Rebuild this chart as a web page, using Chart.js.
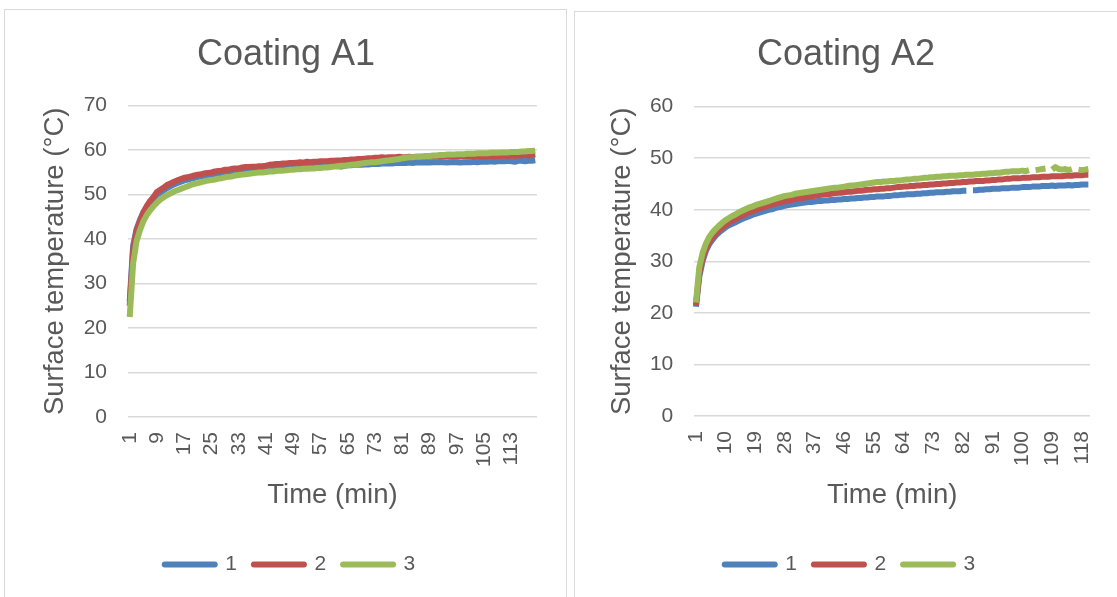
<!DOCTYPE html>
<html><head><meta charset="utf-8">
<script src="https://cdn.jsdelivr.net/npm/chart.js@4.4.1/dist/chart.umd.min.js"></script>
<style>
html,body{margin:0;padding:0;background:#fff;width:1117px;height:597px;overflow:hidden;position:relative;}
.box{position:absolute;border:1px solid #d9d9d9;box-sizing:border-box;}
canvas{position:absolute;}
</style></head><body>
<div class="box" style="left:4px;top:9px;width:563px;height:620px"></div>
<div class="box" style="left:574px;top:11px;width:620px;height:620px"></div>
<canvas id="c1" width="560" height="587" style="left:5px;top:10px"></canvas>
<canvas id="c2" width="544" height="587" style="left:575px;top:10px"></canvas>
<script>
const timeA1 = [1,2,3,4,5,6,7,8,9,10,11,12,13,14,15,16,17,18,19,20,21,22,23,24,25,26,27,28,29,30,31,32,33,34,35,36,37,38,39,40,41,42,43,44,45,46,47,48,49,50,51,52,53,54,55,56,57,58,59,60,61,62,63,64,65,66,67,68,69,70,71,72,73,74,75,76,77,78,79,80,81,82,83,84,85,86,87,88,89,90,91,92,93,94,95,96,97,98,99,100,101,102,103,104,105,106,107,108,109,110,111,112,113,114,115,116,117,118,119,120];
const timeA2 = [1,2,3,4,5,6,7,8,9,10,11,12,13,14,15,16,17,18,19,20,21,22,23,24,25,26,27,28,29,30,31,32,33,34,35,36,37,38,39,40,41,42,43,44,45,46,47,48,49,50,51,52,53,54,55,56,57,58,59,60,61,62,63,64,65,66,67,68,69,70,71,72,73,74,75,76,77,78,79,80,81,82,83,84,85,86,87,88,89,90,91,92,93,94,95,96,97,98,99,100,101,102,103,104,105,106,107,108,109,110,111,112,113,114,115,116,117,118,119,120];
const tickLabelsA1 = [1,9,17,25,33,41,49,57,65,73,81,89,97,105,113];
const tickLabelsA2 = [1,10,19,28,37,46,55,64,73,82,91,100,109,118];
const seriesNames = ['1','2','3'];

const a1s1 = [26.0,38.5,42.2,44.3,46.0,47.2,48.3,49.1,50.0,50.5,
51.0,51.5,51.9,52.3,52.6,52.9,53.2,53.4,53.6,53.8,
54.0,54.1,54.3,54.4,54.5,54.7,54.8,54.9,55.0,55.1,
55.2,55.3,55.4,55.4,55.5,55.5,55.6,55.7,55.7,55.8,
55.8,55.9,55.9,56.0,56.0,56.1,56.1,56.1,56.2,56.2,
56.2,56.3,56.3,56.3,56.4,56.4,56.4,56.5,56.4,56.5,
56.5,56.4,56.3,56.5,56.6,56.6,56.7,56.7,56.7,56.8,
56.8,56.9,56.9,56.9,57.0,57.0,57.0,57.0,57.1,57.1,
57.1,57.1,57.2,57.1,57.2,57.2,57.2,57.3,57.2,57.3,
57.3,57.3,57.3,57.2,57.3,57.3,57.3,57.2,57.3,57.3,
57.3,57.4,57.3,57.4,57.4,57.4,57.5,57.4,57.5,57.5,
57.5,57.6,57.5,57.4,57.6,57.6,57.5,57.6,57.6,57.7];
const a1s2 = [25.0,37.5,41.8,44.0,46.0,47.4,48.6,49.5,50.6,51.1,
51.6,52.2,52.5,52.9,53.2,53.5,53.8,53.9,54.1,54.3,
54.5,54.6,54.8,54.9,55.0,55.2,55.3,55.4,55.6,55.6,
55.8,55.9,55.9,56.1,56.2,56.2,56.3,56.3,56.4,56.4,
56.5,56.7,56.8,56.9,56.9,57.0,57.0,57.1,57.1,57.2,
57.3,57.2,57.4,57.3,57.4,57.4,57.5,57.5,57.5,57.6,
57.6,57.7,57.7,57.8,57.8,57.9,57.9,58.0,58.0,58.1,
58.2,58.2,58.3,58.3,58.4,58.3,58.4,58.4,58.4,58.5,
58.4,58.4,58.5,58.4,58.5,58.5,58.5,58.6,58.5,58.6,
58.6,58.5,58.6,58.6,58.6,58.5,58.6,58.6,58.7,58.6,
58.6,58.7,58.6,58.7,58.6,58.7,58.7,58.6,58.7,58.7,
58.8,58.7,58.8,58.7,58.8,58.8,58.9,58.8,58.9,59.0];
const a1s3 = [22.5,34.5,39.5,42.0,44.0,45.4,46.5,47.4,48.2,48.9,
49.4,49.9,50.3,50.7,51.0,51.3,51.6,51.9,52.2,52.4,
52.6,52.8,53.0,53.2,53.3,53.4,53.6,53.7,53.9,54.0,
54.1,54.3,54.4,54.5,54.6,54.7,54.8,54.9,55.0,55.0,
55.1,55.2,55.2,55.3,55.4,55.4,55.5,55.6,55.6,55.7,
55.7,55.8,55.8,55.9,55.9,56.0,56.0,56.1,56.1,56.2,
56.3,56.4,56.5,56.5,56.6,56.7,56.8,56.9,57.0,57.1,
57.2,57.3,57.3,57.4,57.5,57.6,57.7,57.8,57.9,58.0,
58.2,58.3,58.4,58.4,58.5,58.5,58.6,58.7,58.7,58.8,
58.8,58.9,58.9,59.0,59.0,59.0,59.1,59.1,59.1,59.2,
59.2,59.2,59.3,59.3,59.3,59.3,59.4,59.4,59.4,59.5,
59.5,59.5,59.6,59.6,59.6,59.7,59.7,59.8,59.8,59.9];

const a2s1 = [21.2,27.0,30.0,32.0,33.3,34.2,35.0,35.6,36.1,36.6,
37.0,37.3,37.6,37.9,38.2,38.5,38.7,39.0,39.2,39.4,
39.6,39.8,40.0,40.1,40.3,40.5,40.6,40.8,40.9,41.0,
41.1,41.2,41.3,41.4,41.5,41.5,41.6,41.7,41.7,41.8,
41.8,41.9,41.9,42.0,42.0,42.1,42.1,42.2,42.2,42.3,
42.3,42.4,42.4,42.5,42.5,42.6,42.6,42.6,42.7,42.7,
42.8,42.8,42.9,42.9,43.0,43.0,43.0,43.1,43.1,43.2,
43.2,43.3,43.3,43.4,43.4,43.4,43.5,43.5,43.6,43.6,
43.6,43.7,43.7,null,43.8,43.8,43.9,43.9,44.0,44.0,
44.1,44.1,44.1,44.2,44.2,44.2,44.3,44.3,44.3,44.4,
44.4,44.4,44.5,44.5,44.5,44.6,44.6,44.6,44.7,44.6,
44.7,44.7,44.7,44.8,44.7,44.8,44.8,44.9,44.9,44.9];
const a2s2 = [21.5,27.5,30.5,32.4,33.7,34.6,35.4,36.0,36.6,37.1,
37.5,37.9,38.2,38.6,38.9,39.2,39.5,39.7,40.0,40.2,
40.4,40.6,40.8,41.0,41.2,41.4,41.5,41.7,41.8,41.9,
42.1,42.2,42.3,42.4,42.5,42.6,42.7,42.8,42.9,43.0,
43.0,43.1,43.2,43.3,43.3,43.4,43.5,43.5,43.6,43.7,
43.7,43.8,43.9,43.9,44.0,44.0,44.1,44.1,44.2,44.2,
44.3,44.4,44.4,44.5,44.5,44.6,44.6,44.7,44.7,44.8,
44.8,44.9,44.9,45.0,45.0,45.1,45.1,45.2,45.2,45.3,
45.3,45.4,45.4,45.5,45.5,45.6,45.6,45.6,45.7,45.7,
45.8,45.8,45.9,45.9,46.0,46.0,46.1,46.1,46.1,46.2,
46.2,46.2,46.3,46.3,46.3,46.4,46.4,46.4,46.5,46.5,
46.5,46.5,46.6,46.6,46.6,46.7,46.7,46.7,46.8,46.8];
const a2s3 = [22.0,28.8,31.6,33.4,34.7,35.6,36.3,36.9,37.5,38.0,
38.4,38.8,39.1,39.5,39.8,40.1,40.4,40.6,40.9,41.1,
41.3,41.5,41.7,41.9,42.1,42.3,42.5,42.7,42.8,42.9,
43.1,43.2,43.3,43.4,43.5,43.6,43.7,43.8,43.9,44.0,
44.1,44.2,44.3,44.3,44.4,44.5,44.6,44.7,44.7,44.8,
44.9,45.0,45.1,45.2,45.3,45.4,45.4,45.5,45.5,45.6,
45.6,45.7,45.7,45.8,45.9,45.9,46.0,46.0,46.1,46.2,
46.2,46.3,46.3,46.4,46.4,46.5,46.5,46.6,46.6,46.6,
46.7,46.7,46.8,46.8,46.8,46.9,46.9,47.0,47.0,47.1,
47.1,47.2,47.2,47.3,47.4,47.4,47.5,47.5,47.5,47.6,
47.5,47.7,null,47.7,47.8,47.9,48.0,null,47.8,48.3,
47.9,47.8,47.9,47.7,47.9,null,47.8,47.7,47.8,47.9];

const colors = ['#4F81BD','#C0504D','#9BBB59'];
const TXT = '#595959';
const FONT = '"Liberation Sans", Arial, sans-serif';
Chart.defaults.font.family = FONT;
Chart.defaults.color = TXT;

const shiftLegend = {
  id: 'shiftLegend',
  afterLayout(chart, args, opts) {
    const lg = chart.legend;
    if (lg && opts.dx) { lg.left += opts.dx; lg.right += opts.dx; }
  }
};

function makeChart(id, title, labels, series, yMax, tickList, o) {
  const datasets = series.map((d, i) => ({
    label: seriesNames[i], data: d, borderColor: colors[i], backgroundColor: colors[i],
    borderWidth: 6, pointRadius: 0, tension: 0, spanGaps: false, order: series.length - i,
    borderCapStyle: 'butt', borderJoinStyle: 'round', pointStyle: 'line'
  }));
  return new Chart(document.getElementById(id), {
    type: 'line',
    data: { labels, datasets },
    plugins: [shiftLegend],
    options: {
      responsive: false, animation: false, devicePixelRatio: 1,
      layout: { padding: { left: o.padL, right: o.padR, top: 0, bottom: 12 } },
      plugins: {
        shiftLegend: { dx: 4 },
        title: { display: true, text: title, color: TXT,
          font: { size: 36, weight: 'normal', family: FONT },
          padding: { top: 23, bottom: o.titleB } },
        legend: { position: 'bottom',
          labels: { usePointStyle: true, pointStyle: 'line', pointStyleWidth: 50, padding: 17,
            color: TXT, font: { size: 21, family: FONT },
            sort: (a, b) => a.datasetIndex - b.datasetIndex,
            generateLabels: (chart) => Chart.defaults.plugins.legend.labels.generateLabels(chart)
              .map(l => Object.assign(l, { lineWidth: 6, lineCap: 'round', pointStyle: 'line' })) } },
        tooltip: { enabled: false }
      },
      scales: {
        x: { type: 'category', offset: true,
          grid: { display: false, drawTicks: false }, border: { display: false },
          ticks: { autoSkip: false, minRotation: 90, maxRotation: 90, padding: 15,
            color: TXT, font: { size: 21, family: FONT },
            callback: function (v) { const l = this.getLabelForValue(v); return tickList.includes(Number(l)) ? String(l) : ''; } },
          title: { display: true, text: 'Time (min)', color: TXT, font: { size: 27.5, family: FONT },
            padding: { top: 4, bottom: 25 } },
          afterFit: s => { s.height = o.xH; s.paddingLeft = 0; s.paddingRight = 0; } },
        y: { min: 0, max: yMax,
          grid: { color: '#D9D9D9', lineWidth: 1.5, drawTicks: false }, border: { display: false },
          ticks: { stepSize: 10, padding: 21, color: TXT, font: { size: 21, family: FONT } },
          title: { display: true, text: 'Surface temperature (°C)', color: TXT, font: { size: 27.5, family: FONT },
            padding: { top: 4, bottom: 4 } },
          afterFit: s => { s.width = o.yW; s.paddingTop = 0; s.paddingBottom = 0; } }
      }
    }
  });
}

makeChart('c1', 'Coating A1', timeA1, [a1s1, a1s2, a1s3], 70, tickLabelsA1,
  { padL: 30, padR: 28, titleB: 29.5, xH: 120, yW: 93 });
makeChart('c2', 'Coating A2', timeA2, [a2s1, a2s2, a2s3], 60, tickLabelsA2,
  { padL: 27, padR: 29, titleB: 30.5, xH: 121, yW: 92.3 });
</script>
</body></html>
